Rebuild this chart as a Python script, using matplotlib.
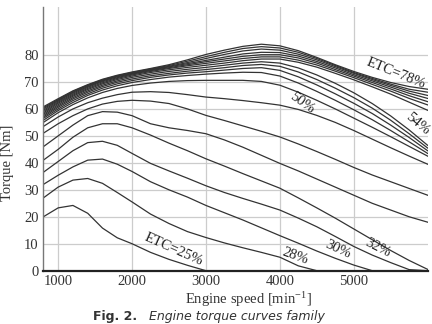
import matplotlib
matplotlib.use('Agg')
import matplotlib.pyplot as plt

# engine speed grid [min^-1]
rpm = [800, 1000, 1200, 1400, 1600, 1800, 2000, 2250, 2500, 2750, 3000, 3250,
       3500, 3750, 4000, 4250, 4500, 4750, 5000, 5250, 5500, 5750, 6000]

# throttle (ETC) opening of each curve [%]
etc = [25, 28, 30, 32, 34, 36, 38, 40, 42, 44, 46, 48, 50, 54, 58, 62, 66, 70, 74, 78]

# torque [Nm], one row per ETC value
torque = [
    [20, 23.3, 24.2, 21.3, 15.8, 12.2, 10, 6.8, 4.2, 2, 0, 0, 0, 0, 0, 0, 0, 0, 0, 0, 0, 0, 0],
    [27, 31, 33.6, 34.2, 32.4, 29, 25.5, 21, 17.5, 14.5, 12.3, 10.3, 8.5, 6.8, 5, 1.8, 0, 0, 0, 0, 0, 0, 0],
    [32, 35.4, 38.5, 41, 41.4, 39.5, 36.8, 33, 30, 27.3, 24.2, 21.5, 18.8, 15.9, 13, 10.2, 7.3, 4.6, 2.1, 0, 0, 0, 0],
    [36.5, 40.5, 44.5, 47.5, 48, 46.5, 43.5, 39.8, 37, 34.3, 31.5, 29, 26.8, 24.7, 22.5, 19.5, 16.3, 12.7, 9, 5.8, 3, 0.4, 0],
    [41, 45, 49.5, 53, 54.5, 54.5, 53, 50.3, 47.3, 44.5, 41.5, 38.8, 36, 33.3, 30.6, 27, 23.3, 19.5, 15.5, 11.5, 7.5, 3.8, 0.5],
    [46, 50, 54, 57.5, 59, 58.8, 57.5, 54.5, 53, 52, 50.8, 48.5, 45.8, 42.8, 39.8, 37, 34, 31, 28, 25, 22.5, 20, 18],
    [51, 54.5, 57.5, 60, 61.8, 62.8, 63.2, 62.9, 62, 60, 57.6, 55.7, 53.7, 51.7, 49.6, 47, 44.2, 41.3, 38.3, 35.5, 33, 30.5, 28],
    [53.5, 57, 60, 62.3, 64, 65.3, 66.2, 66.4, 66.1, 65.3, 64.4, 63.8, 63.1, 62.3, 61.4, 59.8, 57.6, 55, 52, 48.8, 45.6, 42.5, 39.5],
    [55, 58.6, 61.6, 64.1, 66.1, 67.6, 68.7, 69.6, 70.2, 70.5, 70.6, 70.6, 70.6, 70.2, 68.8, 66.2, 63.2, 60, 56.6, 53.2, 49.7, 46.1, 42.5],
    [55.8, 59.4, 62.4, 65, 67, 68.6, 69.8, 70.9, 71.8, 72.4, 72.9, 73.3, 73.6, 73.5, 72.2, 69.6, 66.5, 63.2, 59.7, 56, 52, 47.8, 43.5],
    [56.5, 60, 63.1, 65.6, 67.7, 69.3, 70.5, 71.7, 72.6, 73.3, 73.8, 74.4, 75, 75.3, 74.3, 71.9, 68.9, 65.6, 62.1, 58.3, 54, 49.4, 44.5],
    [57, 60.6, 63.7, 66.2, 68.3, 69.9, 71.1, 72.3, 73.2, 74, 74.6, 75.3, 76.1, 76.5, 75.8, 73.7, 70.9, 67.7, 64.2, 60.3, 55.8, 50.8, 45.5],
    [57.5, 61.1, 64.2, 66.7, 68.8, 70.4, 71.7, 72.9, 73.9, 74.7, 75.4, 76.2, 77, 77.5, 77, 75.2, 72.6, 69.5, 66, 62, 57.4, 52.2, 46.5],
    [58, 61.6, 64.7, 67.2, 69.3, 70.9, 72.2, 73.5, 74.5, 75.4, 76.2, 77, 77.9, 78.5, 78.5, 77.3, 75.5, 73.2, 70.8, 68.2, 65.5, 62.5, 59.5],
    [58.5, 62.1, 65.1, 67.6, 69.7, 71.3, 72.6, 73.9, 75, 76, 76.9, 77.8, 78.7, 79.3, 79.3, 78.1, 76.3, 74, 71.6, 69.1, 66.6, 63.9, 61.5],
    [59, 62.5, 65.5, 68, 70.1, 71.6, 72.9, 74.2, 75.3, 76.4, 77.5, 78.5, 79.5, 80.1, 80.1, 78.9, 77, 74.6, 72.2, 69.8, 67.4, 64.9, 62.7],
    [59.5, 62.9, 65.9, 68.3, 70.4, 71.9, 73.1, 74.4, 75.6, 76.8, 78, 79.2, 80.4, 81, 80.9, 79.6, 77.6, 75.2, 72.7, 70.4, 68.1, 65.8, 63.9],
    [60, 63.2, 66.2, 68.6, 70.6, 72.1, 73.3, 74.6, 75.8, 77.2, 78.7, 80.2, 81.5, 82.2, 81.8, 80.3, 78.2, 75.7, 73.2, 70.9, 68.7, 66.6, 65],
    [60.4, 63.5, 66.5, 68.8, 70.8, 72.3, 73.5, 74.8, 76.1, 77.7, 79.4, 81, 82.4, 83.1, 82.6, 81, 78.7, 76.1, 73.5, 71.3, 69.2, 67.3, 66.2],
    [60.8, 63.8, 66.7, 69, 71, 72.5, 73.7, 75, 76.4, 78.2, 80.2, 81.8, 83.2, 84, 83.4, 81.6, 79.1, 76.4, 73.9, 71.7, 69.8, 68.3, 67.3],
]

# curve labels: text, rpm, torque, rotation
labels = [
    ("ETC=25%", 2560, 8.0, -24),
    ("28%", 4210, 5.2, -20),
    ("30%", 4780, 7.8, -25),
    ("32%", 5320, 8.6, -27),
    ("50%", 4300, 62.0, -36),
    ("54%", 5870, 54.4, -40),
    ("ETC=78%", 5570, 73.3, -22),
]

x_ticks = [1000, 2000, 3000, 4000, 5000]
y_ticks = [0, 10, 20, 30, 40, 50, 60, 70, 80]

plt.rcParams['font.family'] = ['Liberation Serif', 'DejaVu Serif']
plt.rcParams['mathtext.fontset'] = 'stix'

fig = plt.figure(figsize=(4.32, 3.24), dpi=100)
ax = fig.add_axes([43 / 432, 1 - 270.7 / 324, 385 / 432, 263.7 / 324])

for row in torque:
    ax.plot(rpm, row, color='#333333', lw=0.9, solid_joinstyle='round')

for txt, x, y, rot in labels:
    ax.text(x, y, txt, rotation=rot, rotation_mode='anchor', ha='center', va='center',
            fontsize=10.5, color='#222222')

ax.set_xlim(795, 6005)
ax.set_ylim(0, 97.8)
ax.set_xticks(x_ticks)
ax.set_yticks(y_ticks)
ax.grid(True, color='#cccccc', lw=0.9)
ax.set_axisbelow(True)
ax.tick_params(length=0, labelsize=10.5, colors='#333333', pad=3)

for s in ['top', 'right']:
    ax.spines[s].set_visible(False)
ax.spines['left'].set_color('#777777')
ax.spines['left'].set_linewidth(1.0)
ax.spines['bottom'].set_color('#222222')
ax.spines['bottom'].set_linewidth(1.6)

ax.set_xlabel(r'Engine speed [min$^{\mathregular{-1}}$]', fontsize=10.5, color='#333333')
ax.xaxis.set_label_coords(0.535, -0.072)
ax.set_ylabel('Torque [Nm]', fontsize=10.5, color='#333333')
ax.yaxis.set_label_coords(-0.075, 0.41)

# caption at the bottom edge
fig.text(0.318, 0.002, 'Fig. 2.', ha='right', va='bottom', fontsize=9,
         fontweight='bold', family='DejaVu Sans', color='#333333')
fig.text(0.345, 0.002, 'Engine torque curves family', ha='left', va='bottom',
         fontsize=9, style='italic', family='DejaVu Sans', color='#333333')

fig.savefig('out.png', dpi=100)
